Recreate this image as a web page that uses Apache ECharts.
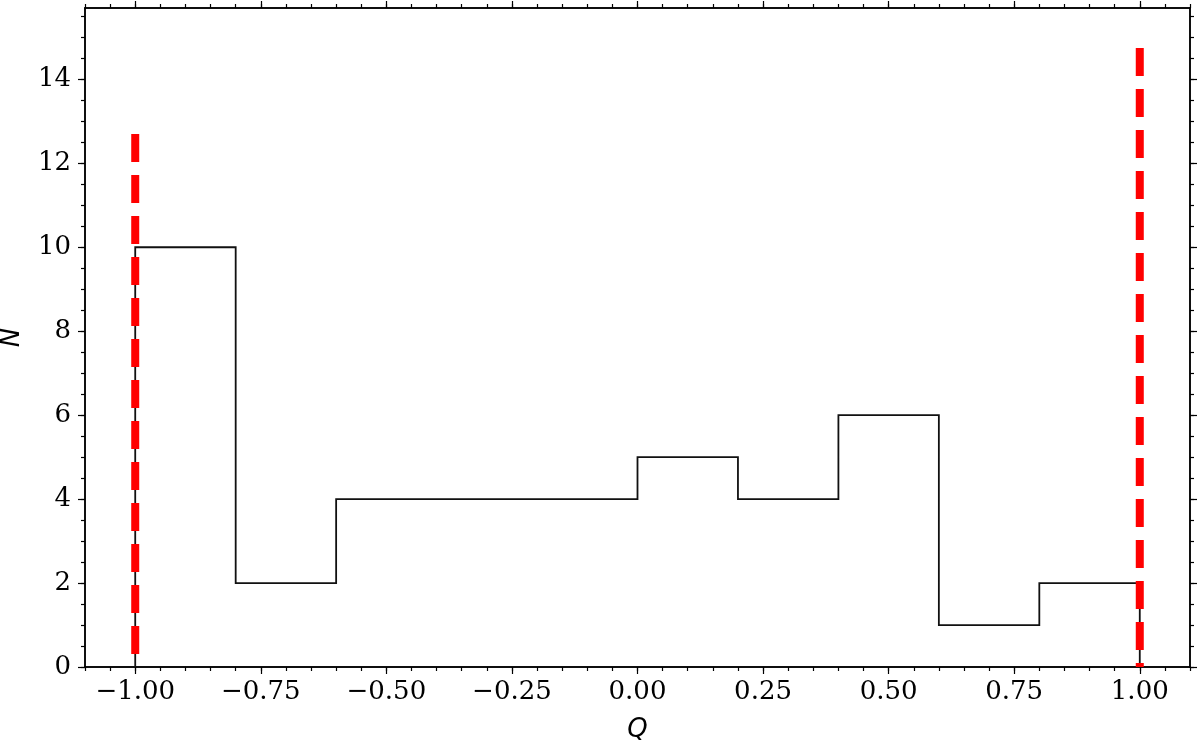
<!DOCTYPE html>
<html><head><meta charset="utf-8">
<script src="https://cdn.jsdelivr.net/npm/echarts@6/dist/echarts.min.js"></script>
<style>html,body{margin:0;padding:0;background:#fff}#c{width:1200px;height:741px}</style>
</head><body><div id="c"></div>
<script>
const binEdges = [-1.0, -0.8, -0.6, -0.4, -0.2, 0.0, 0.2, 0.4, 0.6, 0.8, 1.0];
const counts = [10, 2, 4, 4, 4, 5, 4, 6, 1, 2];
const xTicks = [-1.0, -0.75, -0.5, -0.25, 0.0, 0.25, 0.5, 0.75, 1.0];
const yTicks = [0, 2, 4, 6, 8, 10, 12, 14];
const redLines = [[-1.0, 12.7], [1.0, 14.75]];
const xRange = [-1.1, 1.1];
const yRange = [0, 15.7];

const xMinor = []; for (let i = 0; i <= 44; i++) xMinor.push(+(-1.1 + i * 0.05).toFixed(2));
const yMinor = []; for (let i = 0; i <= 31; i++) yMinor.push(i * 0.5);

const stepPts = [[binEdges[0], 0]];
for (let i = 0; i < counts.length; i++) {
  stepPts.push([binEdges[i], counts[i]]);
  stepPts.push([binEdges[i + 1], counts[i]]);
}
stepPts.push([binEdges[binEdges.length - 1], 0]);

const fmtX = v => (v < 0 ? '\u2212' : '') + Math.abs(v).toFixed(2);
const lab = { fontFamily: 'DejaVu Serif', fontSize: 26, color: '#000' };
const axLine = { show: true, onZero: false, lineStyle: { color: '#000', width: 1.5 } };

function xAx(pos, vals, len, labels, extra) {
  return Object.assign({
    type: 'value', position: pos, min: xRange[0], max: xRange[1],
    axisLine: axLine, splitLine: { show: false },
    axisTick: { show: true, inside: false, length: len, customValues: vals, lineStyle: { color: '#000', width: 1.2 } },
    axisLabel: labels ? Object.assign({ show: true, customValues: xTicks, formatter: fmtX, margin: 12 }, lab) : { show: false }
  }, extra || {});
}
function yAx(pos, vals, len, labels, extra) {
  return Object.assign({
    type: 'value', position: pos, min: yRange[0], max: yRange[1],
    axisLine: axLine, splitLine: { show: false },
    axisTick: { show: true, inside: false, length: len, customValues: vals, lineStyle: { color: '#000', width: 1.2 } },
    axisLabel: labels ? Object.assign({ show: true, customValues: yTicks, formatter: v => String(Math.round(v)), margin: 14 }, lab) : { show: false }
  }, extra || {});
}

const chart = echarts.init(document.getElementById('c'), null, { renderer: 'canvas' });
chart.setOption({
  animation: false,
  backgroundColor: '#fff',
  grid: { left: 85, right: 10, top: 8, bottom: 74, containLabel: false, outerBoundsMode: 'none' },
  xAxis: [
    xAx('bottom', xTicks, 7, true, { name: 'Q', nameLocation: 'middle', nameGap: 50,
      nameTextStyle: { fontFamily: 'DejaVu Sans', fontStyle: 'italic', fontSize: 26, color: '#000' } }),
    xAx('bottom', xMinor, 4, false),
    xAx('top', xTicks, 7, false),
    xAx('top', xMinor, 4, false)
  ],
  yAxis: [
    yAx('left', yTicks, 7, true, { name: 'N', nameLocation: 'middle', nameGap: 60, nameRotate: 90,
      nameTextStyle: { fontFamily: 'DejaVu Sans', fontStyle: 'italic', fontSize: 26, color: '#000' } }),
    yAx('left', yMinor, 4, false),
    yAx('right', yTicks, 7, false),
    yAx('right', yMinor, 4, false)
  ],
  series: [
    { type: 'line', xAxisIndex: 0, yAxisIndex: 0, data: stepPts, symbol: 'none',
      lineStyle: { color: '#111', width: 1.8, join: 'miter' }, z: 2 },
    ...redLines.map(r => ({
      type: 'line', xAxisIndex: 0, yAxisIndex: 0, data: [[r[0], r[1]], [r[0], 0]], symbol: 'none',
      lineStyle: { color: '#ff0000', width: 8, type: [28, 13], cap: 'butt' }, z: 3
    }))
  ]
});
</script></body></html>
